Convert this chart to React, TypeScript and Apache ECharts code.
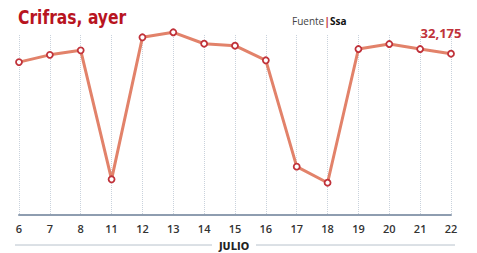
import React, { useEffect, useRef } from "react";
import * as echarts from "echarts";

const days = ["6", "7", "8", "11", "12", "13", "14", "15", "16", "17", "18", "19", "20", "21", "22"];
const values = [30500, 31950, 32850, 7120, 35450, 36450, 34170, 33770, 30860, 9640, 6440, 33110, 34110, 33110, 32175];
const titleText = "Crifras, ayer";
const monthLabel = "JULIO";
const lastLabel = "32,175";

export default function App() {
  const ref = useRef<HTMLDivElement>(null);
  useEffect(() => {
    document.body.style.margin = "0";
    const chart = echarts.init(ref.current!, null, { renderer: "svg" });
    const lastIdx = values.length - 1;
    chart.setOption({
      animation: false,
      backgroundColor: "#ffffff",
      grid: [
        { left: 19, right: 26, top: 14.5, bottom: 38 },
        { left: 19, right: 26, top: 35, bottom: 38 },
      ],
      xAxis: [
        {
          type: "category",
          data: days,
          boundaryGap: false,
          gridIndex: 0,
          axisLine: { show: true, lineStyle: { color: "#8e9db0", width: 2 } },
          axisTick: { show: false },
          splitLine: { show: false },
          axisLabel: {
            color: "#333333",
            fontFamily: "Open Sans",
            fontWeight: 600,
            fontSize: 11,
            margin: 8,
          },
        },
        {
          type: "category",
          data: days,
          boundaryGap: false,
          gridIndex: 1,
          axisLine: { show: false },
          axisTick: { show: false },
          axisLabel: { show: false },
          splitLine: { show: true, lineStyle: { color: "#c9d2dc", type: "dotted", width: 1 } },
        },
      ],
      yAxis: [
        { type: "value", min: 0, max: 40000, show: false, gridIndex: 0, splitLine: { show: false } },
        { type: "value", min: 0, max: 40000, show: false, gridIndex: 1, splitLine: { show: false } },
      ],
      series: [
        {
          type: "line",
          xAxisIndex: 0,
          yAxisIndex: 0,
          data: values.map((v, i) =>
            i === lastIdx
              ? {
                  value: v,
                  label: {
                    show: true,
                    position: "top",
                    distance: 10,
                    offset: [-10, 0],
                    formatter: lastLabel,
                    color: "#c0323a",
                    fontFamily: "Open Sans",
                    fontWeight: 700,
                    fontSize: 13,
                  },
                }
              : v
          ),
          symbol: "circle",
          symbolSize: 6,
          itemStyle: { color: "#ffffff", borderColor: "#c0323a", borderWidth: 1.8 },
          lineStyle: { color: "#e2826a", width: 3 },
          z: 5,
        },
      ],
      graphic: [
        {
          type: "text",
          x: 18,
          y: 8,
          scaleX: 0.91,
          style: {
            text: titleText,
            fill: "#b8141f",
            font: "bold 19px 'DejaVu Sans Condensed', 'Open Sans', sans-serif",
          },
        },
        {
          type: "text",
          left: 292,
          top: 15,
          style: {
            text: "{a|Fuente}{b||}{c|Ssa}",
            rich: {
              a: { fill: "#444444", fontSize: 10, fontFamily: "Open Sans" },
              b: { fill: "#c0323a", fontSize: 10.5, fontWeight: 700, fontFamily: "Open Sans" },
              c: { fill: "#111111", fontSize: 10, fontWeight: 700, fontFamily: "Open Sans" },
            },
          },
        },
        {
          type: "line",
          shape: { x1: 15, y1: 245, x2: 212, y2: 245 },
          style: { stroke: "#b8c2cc", lineWidth: 1 },
        },
        {
          type: "line",
          shape: { x1: 256, y1: 245, x2: 455, y2: 245 },
          style: { stroke: "#b8c2cc", lineWidth: 1 },
        },
        {
          type: "text",
          x: 234,
          y: 246,
          style: {
            text: monthLabel,
            fill: "#222222",
            font: "bold 11px 'DejaVu Sans Condensed', 'Open Sans', sans-serif",
            align: "center",
            verticalAlign: "middle",
          },
        },
      ],
    });
    return () => chart.dispose();
  }, []);
  return <div ref={ref} style={{ position: "fixed", left: 0, top: 0, width: 477, height: 253 }} />;
}
